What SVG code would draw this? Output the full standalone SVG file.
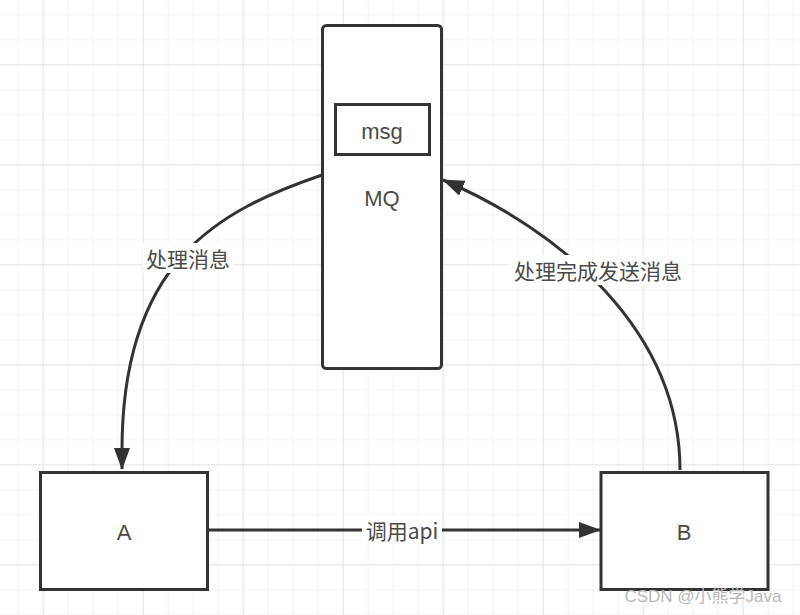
<svg xmlns="http://www.w3.org/2000/svg" width="800" height="615" viewBox="0 0 800 615">
  <defs>
    <pattern id="minor" x="17.7" y="14.3" width="25" height="25" patternUnits="userSpaceOnUse">
      <path d="M0,0 V25 M0,0 H25" fill="none" stroke="#efefef" stroke-width="1.5"/>
    </pattern>
    <pattern id="major" x="42.7" y="64.3" width="100" height="100" patternUnits="userSpaceOnUse">
      <path d="M0,0 V100 M0,0 H100" fill="none" stroke="#e2e2e2" stroke-width="1.5"/>
    </pattern>
    <marker id="arrow" viewBox="0 0 22 16" refX="21" refY="8" markerWidth="22" markerHeight="16" markerUnits="userSpaceOnUse" orient="auto">
      <path d="M0,0 L22,8 L0,16 Z" fill="#333"/>
    </marker>
    <style>
      .box { fill: #fff; stroke: #333; stroke-width: 3; }
      .edge { fill: none; stroke: #333; stroke-width: 3; }
      .t { font-family: "Liberation Sans", "Noto Sans CJK SC", sans-serif; fill: #4a4a4a; text-anchor: middle; dominant-baseline: central; }
      .node { font-size: 22px; }
      .lbl { font-family: "Noto Sans CJK SC", "Liberation Sans", sans-serif; font-size: 21px; }
      .bg { fill: #fff; }
    </style>
  </defs>
  <rect width="800" height="615" fill="#fff"/>
  <rect width="800" height="615" fill="url(#minor)"/>
  <rect width="800" height="615" fill="url(#major)"/>

  <g id="connectors">
    <path class="edge" d="M322,175 C220,210 122,260 122,450 L122,469" marker-end="url(#arrow)"/>
    <path class="edge" d="M680,470 C680,330 560,230 443,180" marker-end="url(#arrow)"/>
    <path class="edge" d="M208,530 L600,530" marker-end="url(#arrow)"/>
    <rect class="bg" x="143" y="243" width="90" height="30"/>
    <text class="t lbl" x="188" y="258">处理消息</text>
    <rect class="bg" x="509" y="255" width="180" height="30"/>
    <text class="t lbl" x="598" y="270">处理完成发送消息</text>
    <rect class="bg" x="362" y="515" width="80" height="30"/>
    <text class="t lbl" x="402" y="530">调用api</text>
  </g>

  <g id="MQ">
    <rect class="box" x="322.5" y="25.5" width="119" height="343" rx="4"/>
    <text class="t node" x="382" y="198">MQ</text>
  </g>
  <g id="msg">
    <rect class="box" x="335.5" y="104.5" width="94" height="50"/>
    <text class="t node" x="382" y="131">msg</text>
  </g>
  <g id="A">
    <rect class="box" x="40.5" y="472.5" width="167" height="117"/>
    <text class="t node" x="124" y="532">A</text>
  </g>
  <g id="B">
    <rect class="box" x="601" y="472.5" width="167" height="117"/>
    <text class="t node" x="684" y="532">B</text>
  </g>

  <text x="703" y="596" font-family="Liberation Sans, Noto Sans CJK SC, sans-serif" font-size="17" fill="#b8b8b8" text-anchor="middle" dominant-baseline="central">CSDN @小熊学Java</text>
</svg>
